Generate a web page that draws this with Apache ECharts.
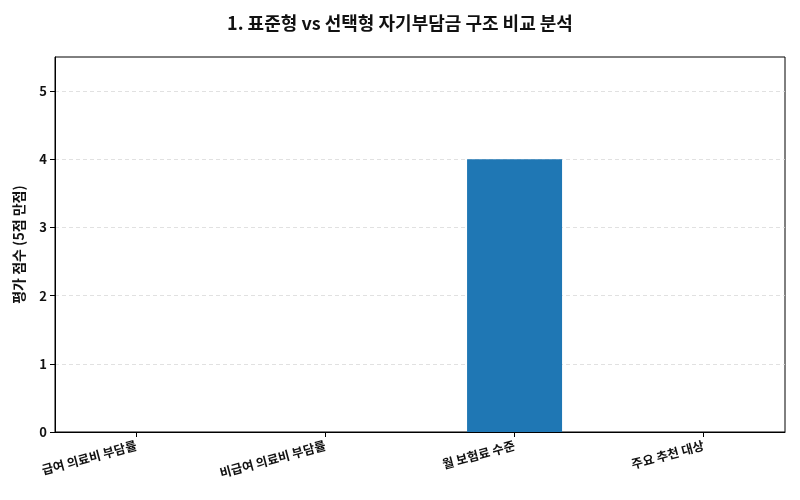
<!DOCTYPE html>
<html><head><meta charset="utf-8">
<script src="https://cdn.jsdelivr.net/npm/echarts@6/dist/echarts.min.js"></script>
<style>html,body{margin:0;padding:0;background:#fff}#c{width:800px;height:500px}</style>
</head><body><div id="c"></div>
<script>
const titleText = '1. 표준형 vs 선택형 자기부담금 구조 비교 분석';
const yAxisTitle = '평가 점수 (5점 만점)';
const categories = ['급여 의료비 부담률', '비급여 의료비 부담률', '월 보험료 수준', '주요 추천 대상'];
const scores = [0, 0, 4, 0];
const yTicks = [0, 1, 2, 3, 4, 5];

const font = '"Noto Sans CJK KR", "Noto Sans", sans-serif';
const chart = echarts.init(document.getElementById('c'));
chart.setOption({
  animation: false,
  title: { text: titleText, left: 'center', top: 9,
    textStyle: { fontFamily: font, fontSize: 18, fontWeight: 'bold', color: '#111' } },
  grid: { left: 55, right: 15, top: 57, bottom: 68, show: true, borderColor: '#000', borderWidth: 1, backgroundColor: 'transparent' },
  xAxis: {
    type: 'value', min: -0.43, max: 3.43,
    axisLine: { show: true, onZero: false, lineStyle: { color: '#000' } },
    axisTick: { show: true, customValues: categories.map((c, i) => i), length: 5, lineStyle: { color: '#000' } },
    axisLabel: { customValues: categories.map((c, i) => i), rotate: 15, margin: 13,
      formatter: v => categories[Math.round(v)] || '',
      fontFamily: font, fontSize: 12.5, fontWeight: 'bold', color: '#111' },
    splitLine: { show: false }
  },
  yAxis: {
    type: 'value', min: 0, max: 5.5, interval: 1,
    name: yAxisTitle, nameLocation: 'middle', nameGap: 29,
    nameTextStyle: { fontFamily: font, fontSize: 14, fontWeight: 'bold', color: '#111' },
    axisLine: { show: true, onZero: false, lineStyle: { color: '#000' } },
    axisTick: { show: true, customValues: yTicks, length: 5, lineStyle: { color: '#000' } },
    axisLabel: { customValues: yTicks, fontFamily: font, fontSize: 13, fontWeight: 'bold', color: '#111', margin: 8 },
    splitLine: { show: true, lineStyle: { color: '#d9d9d9', type: [4, 3], width: 0.8 } }
  },
  series: [{
    type: 'bar',
    data: scores.map((v, i) => [i, v]),
    barWidth: 95,
    itemStyle: { color: '#1f77b4' }
  }]
});
</script></body></html>
